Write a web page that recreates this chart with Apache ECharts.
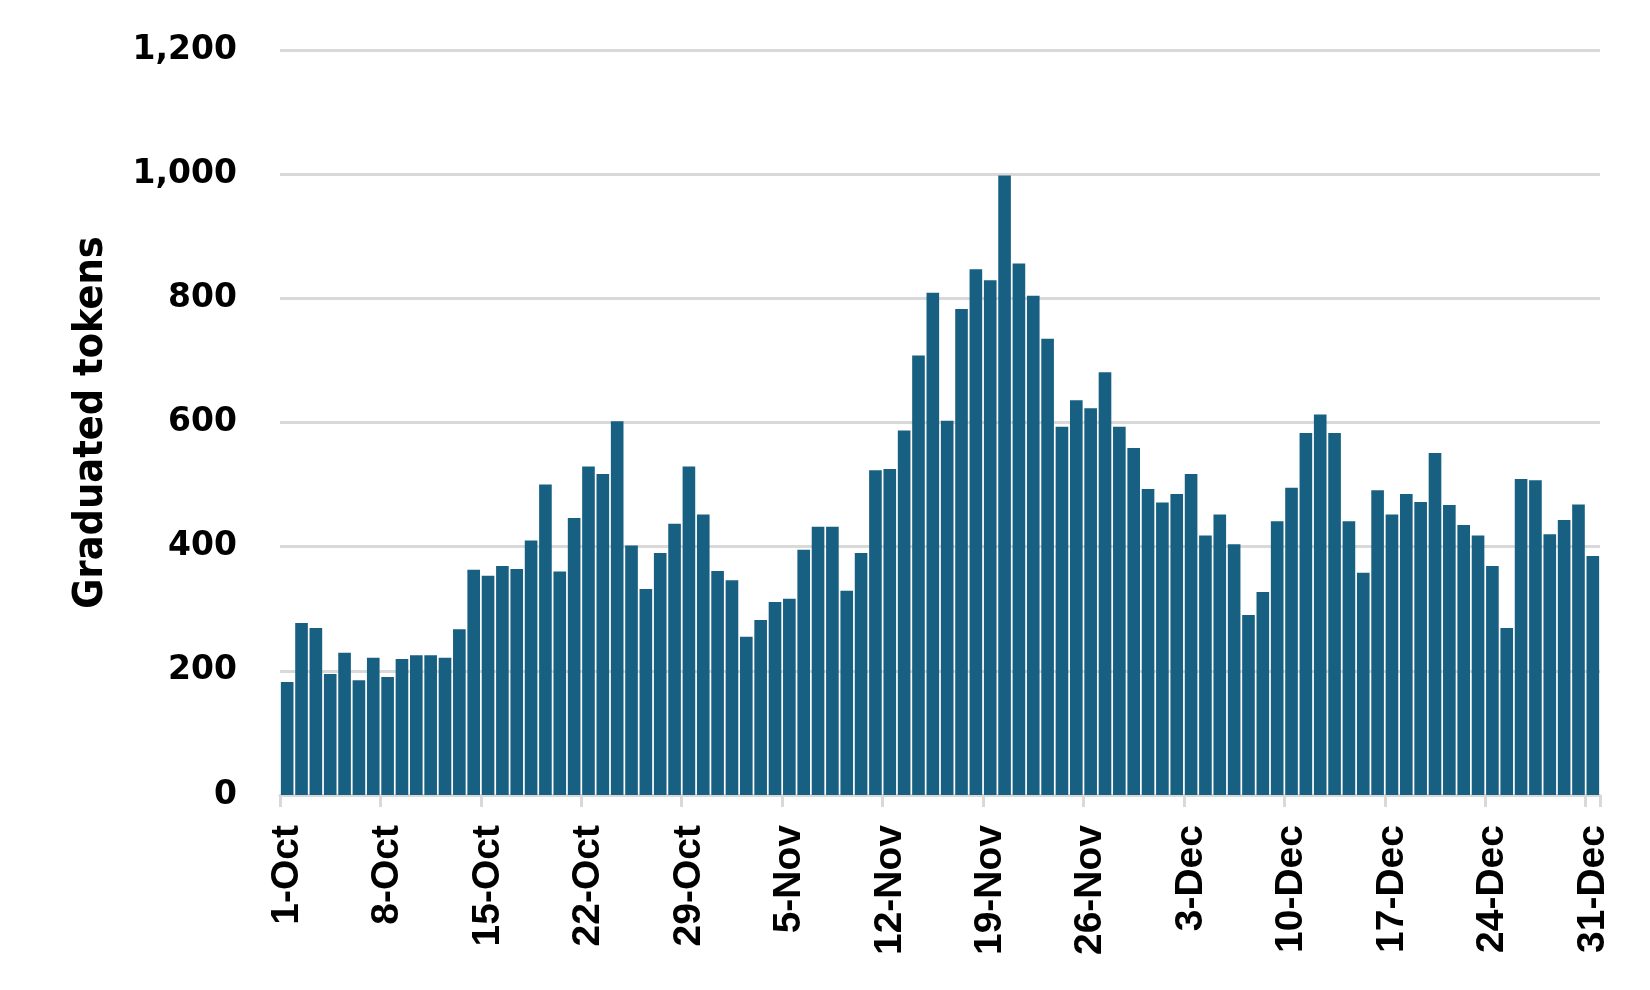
<!DOCTYPE html>
<html>
<head>
<meta charset="utf-8">
<script src="https://cdn.jsdelivr.net/npm/echarts@6/dist/echarts.min.js"></script>
<style>html,body{margin:0;padding:0;background:#fff;}#c{width:1650px;height:990px;}</style>
</head>
<body>
<div id="c"></div>
<script>
const months = ['Oct', 'Nov', 'Dec'];
const monthDays = [31, 30, 31];
const values = [
  182, 277, 269, 195, 229, 185, 221, 190, 219, 225, 225, 221, 267, 363, 353, 369, 364, 410, 500, 360,
  446, 529, 517, 602, 402, 332, 390, 437, 529, 452, 361, 346, 255, 282, 311, 316, 395, 432, 432, 329,
  390, 523, 525, 587, 708, 809, 603, 783, 847, 829, 998, 856, 804, 735, 593, 636, 623, 681, 593, 559,
  493, 471, 485, 517, 418, 452, 404, 290, 327, 441, 495, 583, 613, 583, 441, 358, 491, 452, 485, 472,
  551, 467, 435, 418, 369, 269, 509, 507, 420, 443, 468, 385
];
const categories = [];
months.forEach((m, i) => { for (let d = 1; d <= monthDays[i]; d++) categories.push(d + '-' + m); });

const chart = echarts.init(document.getElementById('c'));
chart.setOption({
  animation: false,
  backgroundColor: '#ffffff',
  grid: { left: 280, right: 50, top: 50, bottom: 195, containLabel: false },
  xAxis: {
    type: 'category',
    data: categories,
    boundaryGap: true,
    axisLine: { show: true, lineStyle: { color: '#d9d9d9', width: 3 } },
    axisTick: { show: true, interval: 6, length: 12, lineStyle: { color: '#d9d9d9', width: 3 } },
    axisLabel: {
      interval: 6, rotate: 90, margin: 30,
      fontFamily: 'Liberation Sans', fontWeight: 'bold', fontSize: 39, color: '#000'
    }
  },
  yAxis: {
    type: 'value',
    min: 0, max: 1200, interval: 200,
    name: 'Graduated tokens',
    nameLocation: 'middle',
    nameGap: 168,
    nameRotate: 90,
    nameTextStyle: { fontFamily: 'DejaVu Sans Condensed', fontWeight: 'bold', fontSize: 41, color: '#000' },
    axisLine: { show: false },
    axisTick: { show: false },
    splitLine: { show: true, lineStyle: { color: '#d9d9d9', width: 3 } },
    axisLabel: {
      margin: 43,
      fontFamily: 'DejaVu Sans', fontWeight: 'bold', fontSize: 33, color: '#000',
      formatter: v => v.toLocaleString('en-US')
    }
  },
  series: [{
    type: 'bar',
    data: values,
    barCategoryGap: '12%',
    itemStyle: { color: '#176082' }
  }]
});
</script>
</body>
</html>
